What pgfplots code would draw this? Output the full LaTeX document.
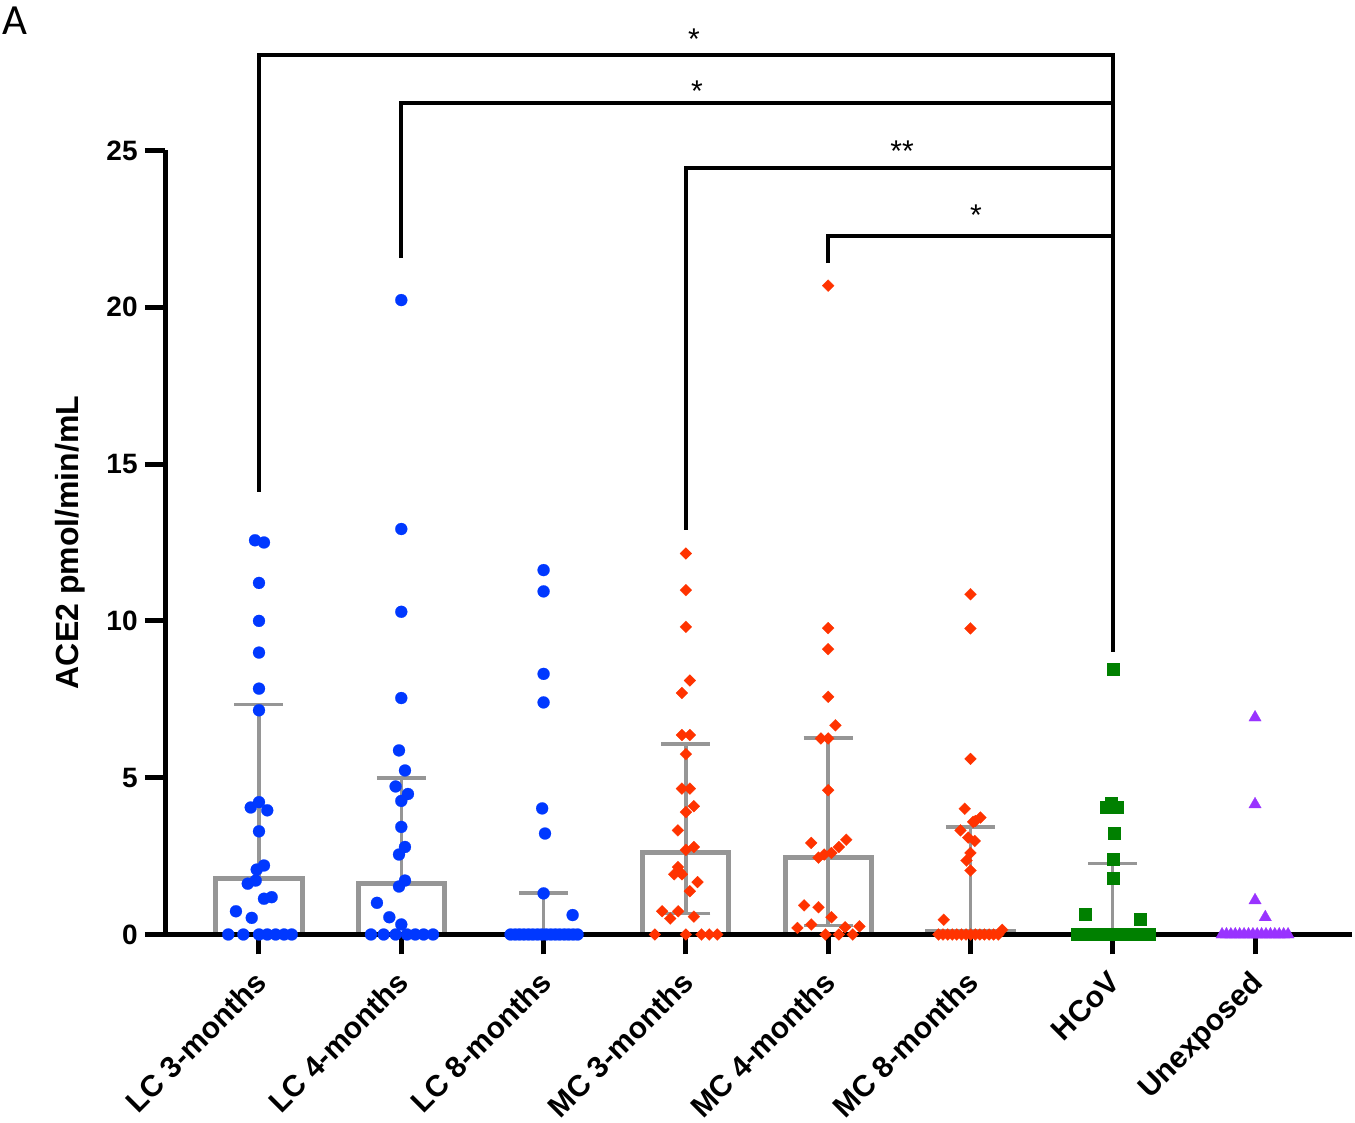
\documentclass[border=0pt]{standalone}
\usepackage{fontspec}
\setmainfont{Liberation Sans}
\newfontfamily\carlito{Carlito}
\usepackage{pgfplots}
\pgfplotsset{compat=1.18}
\definecolor{cblue}{RGB}{0,56,255}
\definecolor{cred}{RGB}{255,51,0}
\definecolor{cgreen}{RGB}{0,128,0}
\definecolor{cpurple}{RGB}{153,51,255}
\definecolor{cgray}{RGB}{150,150,150}
\begin{document}
\begin{tikzpicture}
\begin{axis}[
  set layers,
  scale only axis,
  width=593.5pt, height=392pt,
  xmin=-0.6606, xmax=7.6815,
  ymin=0, ymax=25,
  clip=false,
  axis x line=bottom, axis y line=left,
  axis line style={-, line width=2.5pt, black},
  tick align=outside,
  major tick length=10pt,
  every tick/.style={black, line width=2.5pt},
  xtick={0,1,2,3,4,5,6,7},
  xticklabels={LC 3-months, LC 4-months, LC 8-months, MC 3-months, MC 4-months, MC 8-months, HCoV, Unexposed},
  ytick={0,5,10,15,20,25},
  /pgf/number format/assume math mode=true,
  yticklabel style={font=\bfseries\fontsize{14pt}{14pt}\selectfont, inner sep=0pt, xshift=-3.5pt},
  xticklabel style={font=\bfseries\fontsize{15pt}{15pt}\selectfont, xshift=-3pt, yshift=-7.3pt, rotate=45, anchor=north east, inner sep=0pt},
  every axis y label/.style={at={(axis description cs:-0.080,0.5)}, rotate=90, anchor=center},
  ylabel={\bfseries\fontsize{16pt}{16pt}\selectfont ACE2 pmol/min/mL},
]
% bars (medians)
\addplot[on layer=axis background, ybar, bar width=0.605, draw=cgray, line width=2.5pt, fill=none]
  coordinates {(0,1.80) (1,1.62) (3,2.63) (4,2.47) (5,0.10)};
% upper error bars (interquartile range)
\addplot[on layer=axis background, draw=none, mark=none, forget plot, line width=1.7pt, cgray,
  error bars/.cd, y dir=plus, y explicit,
  error bar style={draw=cgray, line width=1.7pt, solid},
  error mark options={rotate=90, draw=cgray, line width=1.7pt, mark size=12.25pt}]
  coordinates {
  (0,1.80) += (0,5.54)
  (1,1.62) += (0,3.37)
  (2,0) += (0,1.32)
  (3,2.63) += (0,3.44)
  (4,2.47) += (0,3.80)
  (5,0.10) += (0,3.33)
  (6,0) += (0,2.26)
  };
% lower error bars
\addplot[on layer=axis background, draw=none, mark=none, forget plot, line width=1.7pt, cgray,
  error bars/.cd, y dir=minus, y explicit,
  error bar style={draw=cgray, line width=1.7pt, solid},
  error mark options={rotate=90, draw=cgray, line width=1.7pt, mark size=12.25pt}]
  coordinates {
  (3,2.63) -= (0,1.97)
  (4,2.47) -= (0,2.18)
  };
% LC 3-months
\addplot[only marks, mark=*, mark size=3pt, color=cblue, mark options={line width=0.1pt}] table {
x y
-0.028 12.57
0.035 12.50
0 11.21
0 10.00
0 8.99
0 7.84
0 7.15
-0.058 4.05
0 4.22
0.058 3.96
0 3.29
-0.016 2.07
0.035 2.20
-0.079 1.62
-0.023 1.72
0.035 1.14
0.089 1.19
-0.162 0.74
-0.051 0.53
-0.216 0
-0.110 0
0 0
0.058 0
0.117 0
0.176 0
0.230 0
};
% LC 4-months
\addplot[only marks, mark=*, mark size=3pt, color=cblue, mark options={line width=0.1pt}] table {
x y
1.0 20.23
1.0 12.93
1.0 10.29
1.0 7.54
0.984 5.87
1.026 5.23
0.960 4.72
1.047 4.48
1.0 4.26
1.0 3.43
1.026 2.79
0.984 2.55
1.026 1.72
0.984 1.53
0.829 1.01
0.916 0.55
1.0 0.32
0.787 0
0.876 0
0.960 0
1.040 0
1.098 0
1.157 0
1.223 0
};
% LC 8-months
\addplot[only marks, mark=*, mark size=3pt, color=cblue, mark options={line width=0.1pt}] table {
x y
2.0 11.62
2.0 10.94
2.0 8.31
2.0 7.40
1.99 4.02
2.01 3.22
2.0 1.31
2.204 0.62
1.768 0
1.800 0
1.831 0
1.862 0
1.894 0
1.925 0
1.957 0
1.988 0
2.019 0
2.051 0
2.082 0
2.113 0
2.145 0
2.176 0
2.208 0
2.239 0
};
% MC 3-months
\addplot[only marks, mark=square*, mark size=2.1pt, color=cred, mark options={rotate=45, line width=0.1pt}] table {
x y
3.0 12.15
3.0 10.98
3.0 9.81
3.028 8.10
2.972 7.70
2.972 6.36
3.028 6.36
3.0 5.75
2.972 4.65
3.028 4.65
3.056 4.09
3.0 3.90
2.944 3.32
3.0 2.70
3.056 2.79
2.944 2.15
2.958 1.99
2.918 1.92
2.972 1.92
3.082 1.67
3.028 1.38
2.833 0.74
2.946 0.74
3.056 0.57
2.890 0.51
2.782 0
3.0 0
3.110 0
3.164 0
3.220 0
};
% MC 4-months
\addplot[only marks, mark=square*, mark size=2.1pt, color=cred, mark options={rotate=45, line width=0.1pt}] table {
x y
4.0 20.69
4.0 9.77
4.0 9.10
4.0 7.58
4.051 6.67
3.949 6.25
4.0 6.25
4.0 4.60
3.881 2.92
4.127 3.02
4.075 2.79
4.023 2.60
3.972 2.55
3.932 2.45
3.831 0.93
3.932 0.87
4.023 0.55
3.881 0.32
3.784 0.21
4.119 0.23
4.220 0.26
3.981 0
4.075 0
4.173 0
};
% MC 8-months
\addplot[only marks, mark=square*, mark size=2.1pt, color=cred, mark options={rotate=45, line width=0.1pt}] table {
x y
5.0 10.85
5.0 9.76
5.0 5.60
4.960 4.01
5.070 3.73
5.035 3.62
5.019 3.59
4.930 3.32
4.984 3.09
5.030 2.98
5.0 2.60
4.972 2.36
5.0 2.04
4.812 0.47
5.223 0.15
4.775 0
4.807 0
4.840 0
4.872 0
4.904 0
4.937 0
4.969 0
5.001 0
5.034 0
5.066 0
5.098 0
5.131 0
5.163 0
5.195 0
};
% HCoV
\addplot[only marks, mark=square*, mark size=3pt, color=cgreen, mark options={line width=0.1pt}] table {
x y
6.0 8.45
5.956 4.07
6.030 4.07
5.991 4.18
6.009 3.23
6.0 2.40
6.0 1.81
5.805 0.64
6.190 0.50
5.747 0
5.781 0
5.815 0
5.848 0
5.882 0
5.916 0
5.949 0
5.983 0
6.017 0
6.051 0
6.084 0
6.118 0
6.152 0
6.185 0
6.219 0
6.253 0
};
% Unexposed
\addplot[only marks, mark=triangle*, mark size=3.6pt, color=cpurple, mark options={line width=0.1pt}] table {
x y
7.0 6.92
7.0 4.15
7.0 1.09
7.072 0.55
6.768 0
6.799 0
6.830 0
6.861 0
6.892 0
6.923 0
6.954 0
6.985 0
7.015 0
7.046 0
7.077 0
7.108 0
7.139 0
7.170 0
7.201 0
7.232 0
};
% significance brackets
\addplot[black, line width=2pt, mark=none, line join=miter] coordinates {(0,14.11) (0,28.04) (6,28.04) (6,9.01)};
\addplot[black, line width=2pt, mark=none, line join=miter] coordinates {(1,21.57) (1,26.51) (6,26.51)};
\addplot[black, line width=2pt, mark=none, line join=miter] coordinates {(3,12.90) (3,24.43) (6,24.43)};
\addplot[black, line width=2pt, mark=none, line join=miter] coordinates {(4,21.41) (4,22.26) (6,22.26)};
\node[anchor=base, inner sep=0pt, font=\fontsize{15pt}{15pt}\selectfont] at (axis cs:3.057,28.22) {*};
\node[anchor=base, inner sep=0pt, font=\fontsize{15pt}{15pt}\selectfont] at (axis cs:3.078,26.56) {*};
\node[anchor=base, inner sep=0pt, font=\fontsize{15pt}{15pt}\selectfont] at (axis cs:4.519,24.66) {**};
\node[anchor=base, inner sep=0pt, font=\fontsize{15pt}{15pt}\selectfont] at (axis cs:5.039,22.60) {*};
\node[anchor=base west, inner sep=0pt, font=\carlito\fontsize{21.5pt}{21.5pt}\selectfont] at (axis cs:-1.806,28.684) {A};
\coordinate (bbSW) at (axis cs:-1.8202,-6.011);
\coordinate (bbNE) at (axis cs:7.7026,29.799);
\end{axis}
\pgfresetboundingbox
\path[use as bounding box] (bbSW) rectangle (bbNE);
\end{tikzpicture}
\end{document}
